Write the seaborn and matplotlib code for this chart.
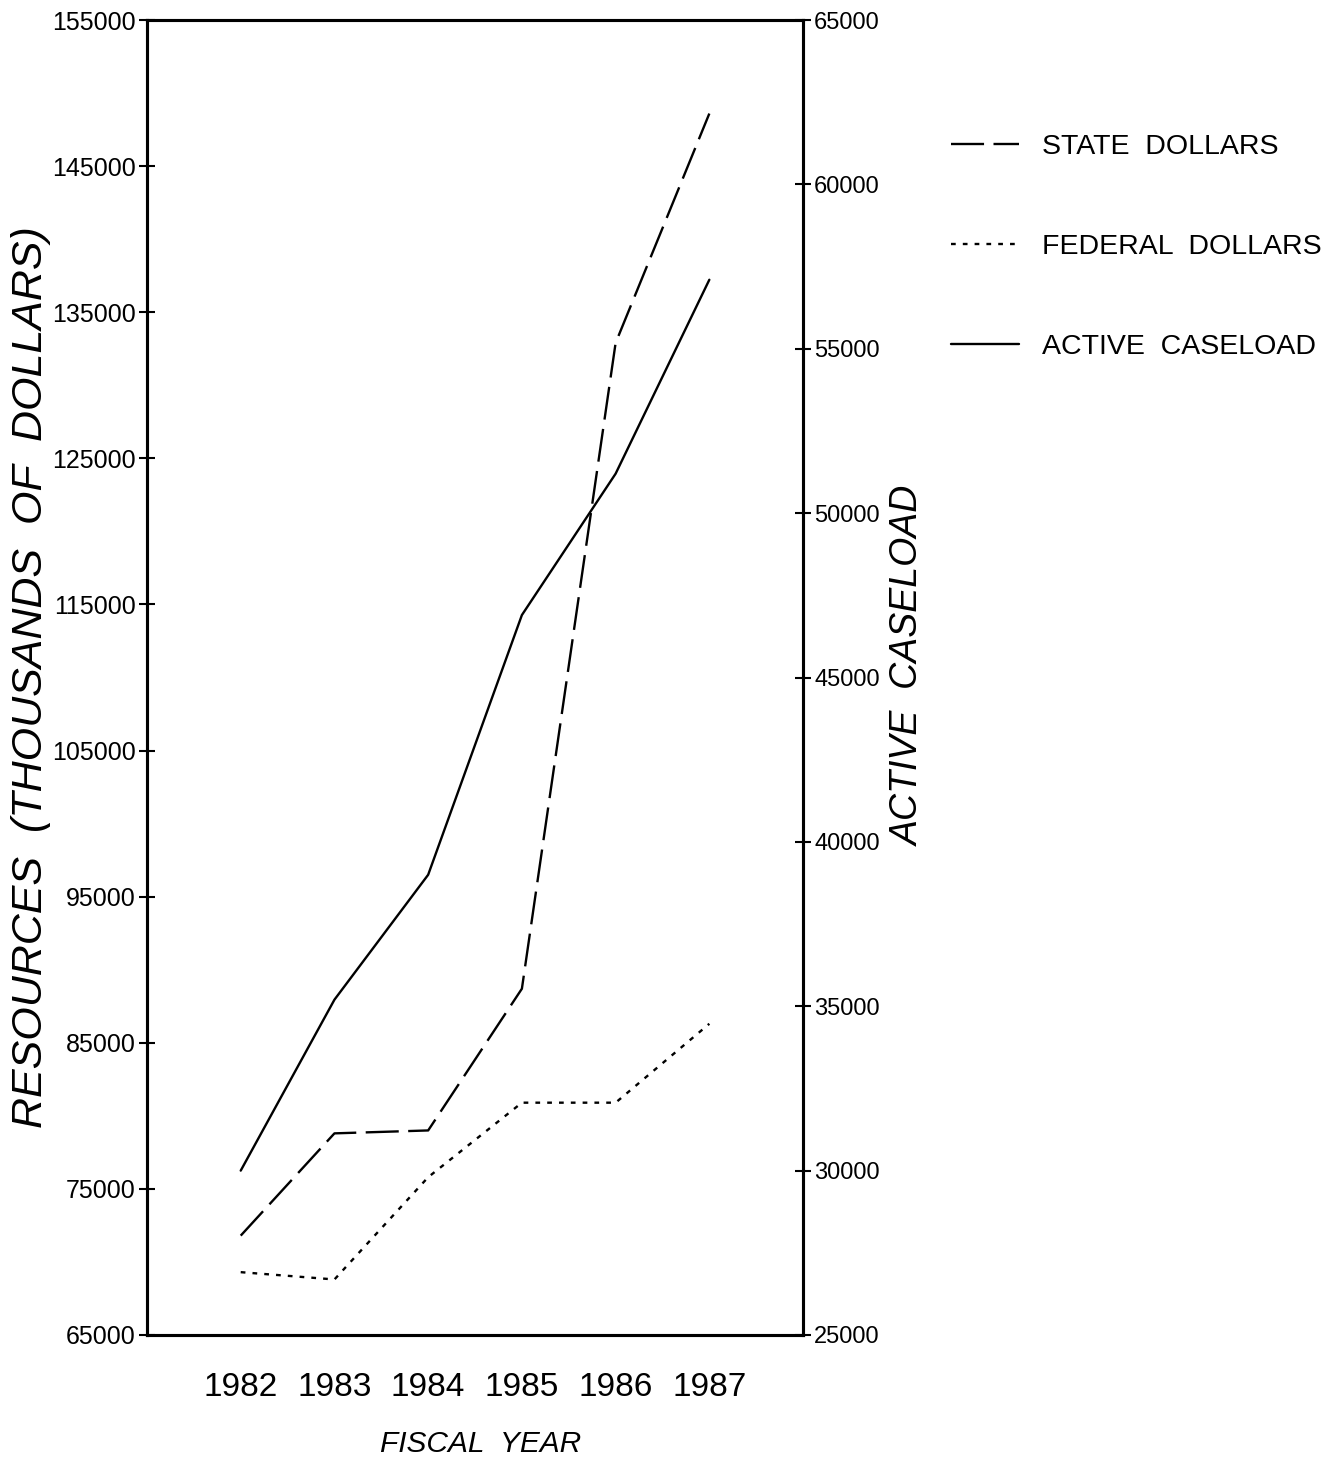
import matplotlib
matplotlib.use('Agg')
import matplotlib.pyplot as plt
from matplotlib.lines import Line2D
import seaborn as sns
import pandas as pd

# Data
years = [1982, 1983, 1984, 1985, 1986, 1987]
state_dollars = [71800, 78800, 79000, 88700, 132900, 148600]
federal_dollars = [69300, 68800, 75800, 80900, 80900, 86300]
active_caseload = [30000, 35200, 39000, 46900, 51200, 57100]

left_ticks = [65000, 75000, 85000, 95000, 105000, 115000, 125000, 135000, 145000, 155000]
right_ticks = [25000, 30000, 35000, 40000, 45000, 50000, 55000, 60000, 65000]

df = pd.DataFrame({'year': years, 'state': state_dollars,
                   'federal': federal_dollars, 'caseload': active_caseload})

sns.set_style('white')
plt.rcParams['font.family'] = ['Liberation Sans', 'DejaVu Sans']
plt.rcParams['text.color'] = 'black'
plt.rcParams['axes.labelcolor'] = 'black'
plt.rcParams['xtick.color'] = 'black'
plt.rcParams['ytick.color'] = 'black'

fig = plt.figure(figsize=(13.4, 14.63), dpi=100)
ax = fig.add_axes([0.1097, 0.0875, 0.4896, 0.8988])
ax2 = ax.twinx()

state_ls = (0, (14, 4))
fed_ls = (0, (2, 3))

sns.lineplot(data=df, x='year', y='state', ax=ax, color='black', linewidth=1.7, linestyle=state_ls)
sns.lineplot(data=df, x='year', y='federal', ax=ax, color='black', linewidth=1.7, linestyle=fed_ls)
sns.lineplot(data=df, x='year', y='caseload', ax=ax2, color='black', linewidth=1.7)

ax.set_xlim(1981, 1988)
ax.set_ylim(65000, 155000)
ax2.set_ylim(25000, 65000)
ax.set_xticks(years)
ax.set_xticklabels([str(y) for y in years], fontsize=24)
ax.set_yticks(left_ticks)
ax.set_yticklabels([str(t) for t in left_ticks], fontsize=18)
ax2.set_yticks(right_ticks)
ax2.set_yticklabels([str(t) for t in right_ticks], fontsize=17)

ax.tick_params(axis='y', direction='inout', length=12, width=1.5, pad=2)
ax.tick_params(axis='x', direction='inout', length=16, width=1.5, pad=19)
ax2.tick_params(axis='y', direction='inout', length=12, width=1.5, pad=2)

for a in (ax, ax2):
    for s in a.spines.values():
        s.set_linewidth(2.2)
        s.set_color('black')

ax.set_xlabel('FISCAL  YEAR', fontsize=21.5, style='italic', labelpad=19)
ax.xaxis.label.set_x(0.508)
ax.set_ylabel('RESOURCES  (THOUSANDS  OF  DOLLARS)', fontsize=31, style='italic', labelpad=1)
ax2.set_ylabel('ACTIVE  CASELOAD', fontsize=27, style='italic', labelpad=8)
ax2.yaxis.label.set_y(0.509)

handles = [Line2D([], [], color='black', linewidth=1.7, linestyle=state_ls),
           Line2D([], [], color='black', linewidth=1.7, linestyle=fed_ls),
           Line2D([], [], color='black', linewidth=1.7)]
labels = ['STATE  DOLLARS', 'FEDERAL  DOLLARS', 'ACTIVE  CASELOAD']
fig.legend(handles, labels, loc='upper left', bbox_to_anchor=(0.6907, 0.926),
           frameon=False, fontsize=20.5, handlelength=2.4, handletextpad=0.8,
           labelspacing=2.6)

fig.savefig('out.png', dpi=100, facecolor='white')
